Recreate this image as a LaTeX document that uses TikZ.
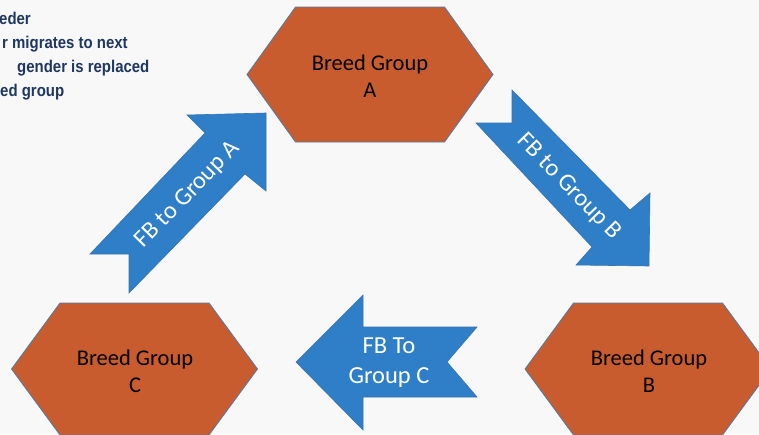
\documentclass[tikz,border=0pt]{standalone}
\usepackage{fontspec}
\setmainfont{Carlito}
\newfontfamily\notefont{Liberation Sans}
\definecolor{bg}{HTML}{F8F8F8}
\definecolor{hexfill}{HTML}{C95C2F}
\definecolor{hexline}{HTML}{4F7DAA}
\definecolor{arrfill}{HTML}{2E7EC8}
\definecolor{arrline}{HTML}{3A75AE}
\definecolor{notecol}{HTML}{1F3763}
% slightly narrowed bold note lettering
\newcommand{\notetext}[1]{\scalebox{0.88}[1]{#1}}

\begin{document}
\begin{tikzpicture}[x=1pt,y=-1pt,
  hexshape/.style={fill=hexfill, draw=hexline, line width=0.8pt, line join=miter},
  blockarrow/.style={fill=arrfill, draw=arrline, line width=0.6pt, line join=miter},
  hexlabel/.style={font=\fontsize{22.5}{27}\selectfont, text=black, align=center, inner sep=0pt},
  arrowlabel/.style={font=\fontsize{24.5}{30}\selectfont, text=white, align=center, inner sep=0pt},
  note/.style={font=\notefont\bfseries\fontsize{17}{24}\selectfont, text=notecol, anchor=base west, inner sep=0pt}]

% canvas
\fill[bg] (0,0) rectangle (759,434);
\useasboundingbox (0,0) rectangle (759,434);

% centres of the three breed groups
\coordinate (cA) at (370,74.5);
\coordinate (cB) at (648,369);
\coordinate (cC) at (134.5,369);

% hexagons
\draw[hexshape] (cA) ++(-74.5,-67.5) -- ++(149,0) -- ++(48.5,67.5) -- ++(-48.5,67.5) -- ++(-149,0) -- ++(-48.5,-67.5) -- cycle;
\draw[hexshape] (cB) ++(-74.5,-66) -- ++(149,0) -- ++(48.5,66) -- ++(-48.5,66) -- ++(-149,0) -- ++(-48.5,-66) -- cycle;
\draw[hexshape] (cC) ++(-74.5,-66) -- ++(149,0) -- ++(48.5,66) -- ++(-48.5,66) -- ++(-149,0) -- ++(-48.5,-66) -- cycle;

\node[hexlabel] (hexA) at (370,76) {Breed Group\\A};
\node[hexlabel] (hexB) at (649,371) {Breed Group\\B};
\node[hexlabel] (hexC) at (135,371) {Breed Group\\C};

% block arrows with notched tails
\draw[blockarrow] (90,254) -- (205,133) -- (187,115) -- (266,113) -- (266,191) -- (245,174) -- (129,293) -- (129,254) -- cycle;
\draw[blockarrow] (512,90) -- (630,210) -- (650,193) -- (649,266) -- (576,265) -- (592,247) -- (476,123) -- (512,123) -- cycle;
\draw[blockarrow] (296,362) -- (363,295) -- (363,327) -- (477,327) -- (447,362) -- (477,397) -- (363,397) -- (363,430) -- cycle;

\node[arrowlabel, rotate=45.7] (labA) at (188,195) {FB to Group A};
\node[arrowlabel, rotate=-45.8] (labB) at (569,187) {FB to Group B};
\node[arrowlabel] (labC) at (389,363) {FB To\\Group C};

% note in the upper left corner
\node[note] (n1) at (-1,24) {\notetext{eder}};
\node[note] (n2) at (2,48) {\notetext{r migrates to next}};
\node[note] (n3) at (17,72) {\notetext{gender is replaced}};
\node[note] (n4) at (0,96) {\notetext{ed group}};
\end{tikzpicture}
\end{document}
